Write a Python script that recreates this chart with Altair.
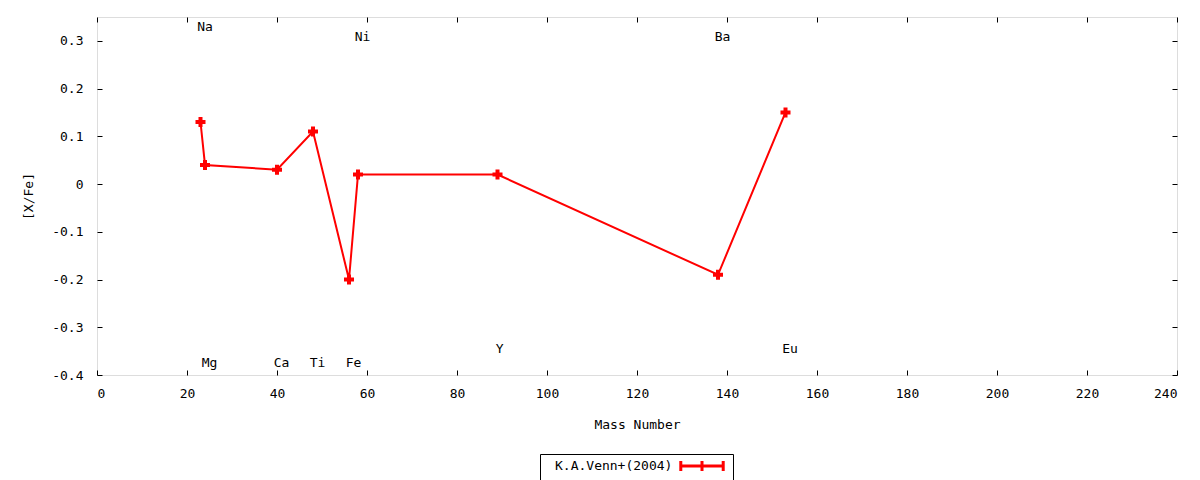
import altair as alt
import pandas as pd

# abundance ratios per element (K.A.Venn+ 2004)
mass = [23, 24, 40, 48, 56, 58, 89, 138, 153]
x_fe = [0.13, 0.04, 0.03, 0.11, -0.20, 0.02, 0.02, -0.19, 0.15]

# element name labels placed in data coordinates
label_names = ['Na', 'Mg', 'Ca', 'Ti', 'Fe', 'Ni', 'Y', 'Ba', 'Eu']
label_x = [24, 25, 41, 49, 57, 59, 89.5, 139, 154]
label_y = [0.33, -0.375, -0.375, -0.375, -0.375, 0.308, -0.346, 0.308, -0.346]

x_ticks = list(range(0, 241, 20))
y_ticks = [-0.4, -0.3, -0.2, -0.1, 0, 0.1, 0.2, 0.3]

SERIES = 'K.A.Venn+(2004)'
FONT = 'DejaVu Sans Mono'

df = pd.DataFrame({'mass': mass, 'xfe': x_fe, 'series': SERIES})
lab_df = pd.DataFrame({'name': label_names, 'lx': label_x, 'ly': label_y})

x_scale = alt.Scale(domain=[0, 240], nice=False)
y_scale = alt.Scale(domain=[-0.4, 0.35], nice=False)

y_label_expr = "datum.value == 0 ? '0' : toString(round(datum.value * 10) / 10)"

x_axis = alt.Axis(values=x_ticks, title='Mass Number', domain=False, grid=False,
                  tickSize=5, offset=-5, labelPadding=12, titlePadding=18,
                  tickColor='black', labelFont=FONT, titleFont=FONT,
                  labelFontSize=13, titleFontSize=13, titleFontWeight='normal',
                  labelColor='black', titleColor='black')
y_axis = alt.Axis(values=y_ticks, title='[X/Fe]', domain=False, grid=False,
                  tickSize=5, offset=-5, labelPadding=14, titlePadding=16,
                  labelExpr=y_label_expr, tickColor='black', labelFont=FONT,
                  titleFont=FONT, labelFontSize=13, titleFontSize=13,
                  titleFontWeight='normal', labelColor='black', titleColor='black')

base = alt.Chart(df)

# legend: label on the left, line-with-crosses sample on the right
line = base.mark_line(strokeWidth=2).encode(
    x=alt.X('mass:Q', scale=x_scale, axis=x_axis),
    y=alt.Y('xfe:Q', scale=y_scale, axis=y_axis),
    color=alt.Color('series:N',
                    scale=alt.Scale(domain=[SERIES], range=['#ff0000']),
                    legend=alt.Legend(
                        title=None, orient='none', legendX=443, legendY=437,
                        symbolType='M-3,0H3M-3,-0.7V0.7M0,-0.7V0.7M3,-0.7V0.7',
                        symbolSize=200, symbolStrokeWidth=3,
                        symbolStrokeColor='#ff0000', symbolFillColor='transparent',
                        symbolOffset=150, labelOffset={'expr': '-156'},
                        labelFont=FONT, labelFontSize=13, labelColor='black',
                        strokeColor='black', fillColor='white', padding=3,
                        cornerRadius=0))
)

points = base.mark_point(shape='cross', filled=True, size=100, opacity=1,
                         color='#ff0000').encode(
    x=alt.X('mass:Q', scale=x_scale, axis=None),
    y=alt.Y('xfe:Q', scale=y_scale, axis=None)
)

labels = alt.Chart(lab_df).mark_text(font=FONT, fontSize=13, color='black',
                                      baseline='middle', align='center').encode(
    x=alt.X('lx:Q', scale=x_scale, axis=None),
    y=alt.Y('ly:Q', scale=y_scale, axis=None),
    text='name:N'
)

# mirrored ticks on top and right edges
mirror = base.mark_point(opacity=0).encode(
    x=alt.X('mass:Q', scale=x_scale,
            axis=alt.Axis(orient='top', values=x_ticks, labels=False, title=None,
                          domain=False, grid=False, tickSize=5, offset=-5,
                          tickColor='black')),
    y=alt.Y('xfe:Q', scale=y_scale,
            axis=alt.Axis(orient='right', values=y_ticks, labels=False, title=None,
                          domain=False, grid=False, tickSize=5, offset=-5,
                          tickColor='black'))
)

chart = alt.layer(line, points, labels, mirror).resolve_axis(
    x='independent', y='independent'
).properties(
    width=1080, height=358,
    autosize=alt.AutoSizeParams(type='none'),
    padding={'left': 89, 'top': 9, 'right': 15, 'bottom': 105}
).configure_view(
    stroke='black', strokeWidth=1
).configure(background='white')

chart.save("out.html", embed_options={"renderer": "svg", "actions": False})
